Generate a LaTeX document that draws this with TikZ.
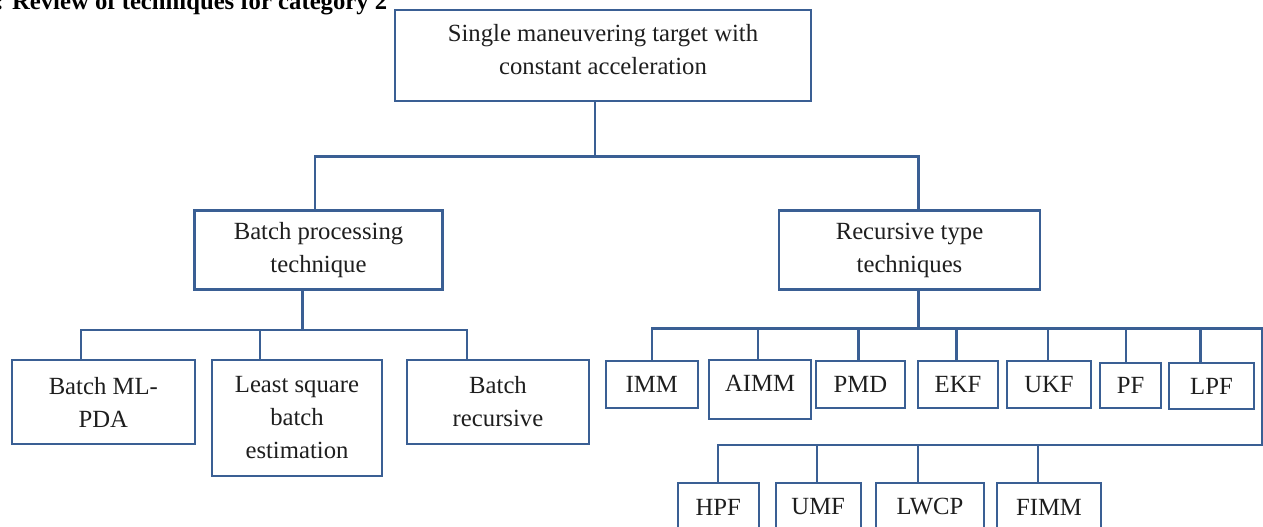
\documentclass[tikz,border=0pt]{standalone}
\usepackage{fontspec}
\setmainfont{Liberation Serif}
\usetikzlibrary{calc}
\definecolor{boxedge}{HTML}{3A5F94}
\definecolor{txtc}{HTML}{1E1E1E}

\begin{document}
\begin{tikzpicture}[
  x=1pt, y=-1pt,
  font=\fontsize{24.7}{33}\selectfont,
  tbox/.style={rectangle, draw=boxedge, line width=2.2pt, align=center,
               inner sep=0pt, text=txtc},
  leaf/.style={tbox, minimum height=47pt},
  link/.style={draw=boxedge, line width=2.2pt},
  capt/.style={font=\fontsize{24.7}{33}\selectfont\bfseries, inner sep=0pt, text=black},
]
\useasboundingbox (0,0) rectangle (1263,527);

% ---- caption (cut at the top edge) ----
\node[capt, anchor=base west] (cap) at (-4.6,10) {: Review of techniques for category 2};

% ---- root and second level ----
\node[tbox, minimum width=416pt, minimum height=91pt, text depth=11pt] (root) at (603,55.3)
  {Single maneuvering target with\\constant acceleration};
\node[tbox, minimum width=248pt, minimum height=79pt] (batch) at (318.5,250)
  {Batch processing\\technique};
\node[tbox, minimum width=261pt, minimum height=79pt] (recur) at (909.5,250)
  {Recursive type\\techniques};

% ---- batch branch ----
\node[tbox, minimum width=183pt, minimum height=84pt] (mlpda) at (103.3,402) {Batch ML-\\PDA};
\node[tbox, minimum width=170pt, minimum height=116pt] (lsq) at (297,418) {Least square\\batch\\estimation};
\node[tbox, minimum width=182pt, minimum height=84pt] (brec) at (498,402) {Batch\\recursive};

% ---- recursive branch, first row ----
\node[leaf, minimum width=92pt] (imm) at (651.8,384.5) {IMM};
\node[leaf, minimum width=102pt, minimum height=59pt, text depth=13pt] (aimm) at (760,389.5) {AIMM};
\node[leaf, minimum width=89pt] (pmd) at (860.5,384.5) {PMD};
\node[leaf, minimum width=80pt] (ekf) at (958,384.5) {EKF};
\node[leaf, minimum width=84pt] (ukf) at (1049,384.5) {UKF};
\node[leaf, minimum width=61pt, minimum height=45pt] (pf) at (1130.5,385.5) {PF};
\node[leaf, minimum width=85pt, minimum height=46pt] (lpf) at (1211.5,386) {LPF};

% ---- recursive branch, second row ----
\node[leaf, minimum width=81pt, minimum height=48pt] (hpf) at (718.3,507) {HPF};
\node[leaf, minimum width=85pt, minimum height=48pt] (umf) at (818.2,507) {UMF};
\node[leaf, minimum width=108pt, minimum height=48pt] (lwcp) at (930,507) {LWCP};
\node[leaf, minimum width=104pt, minimum height=48pt] (fimm) at (1049,507) {FIMM};

% ---- tree links ----
\draw[link] ([xshift=-8pt]root.south) -- ++(0,54.5) coordinate (tj);
\draw[link] ([xshift=-3.5pt]batch.north) |- (tj) -| ([xshift=9pt]recur.north);

\draw[link] ([xshift=-16pt]batch.south) -- ++(0,39.5) coordinate (lj);
\draw[link] ([xshift=-22.6pt]mlpda.north) |- (lj) -| ([xshift=-31pt]brec.north);
\draw[link] ($(lsq.north)+(-37,0)$) -- ($(lsq.north |- lj)+(-37,0)$);

\coordinate (rtop) at (1262,328.5);
\coordinate (rbot) at (1262,444.7);
\draw[link] ($(recur.south)+(9,0)$) -- ($(recur.south |- rtop)+(9,0)$);
\draw[link] (imm.north) |- (rtop) -- (rbot) -| (hpf.north);
\foreach \n/\dx in {aimm/-2, pmd/-2, ekf/-1.5, ukf/-1, pf/-4.5, lpf/-11}
  \draw[link] ($(\n.north)+(\dx,0)$) -- ($(\n.north |- rtop)+(\dx,0)$);
\foreach \n/\dx in {umf/-1.5, lwcp/-12, fimm/-11}
  \draw[link] ($(\n.north)+(\dx,0)$) -- ($(\n.north |- rbot)+(\dx,0)$);
\end{tikzpicture}
\end{document}
